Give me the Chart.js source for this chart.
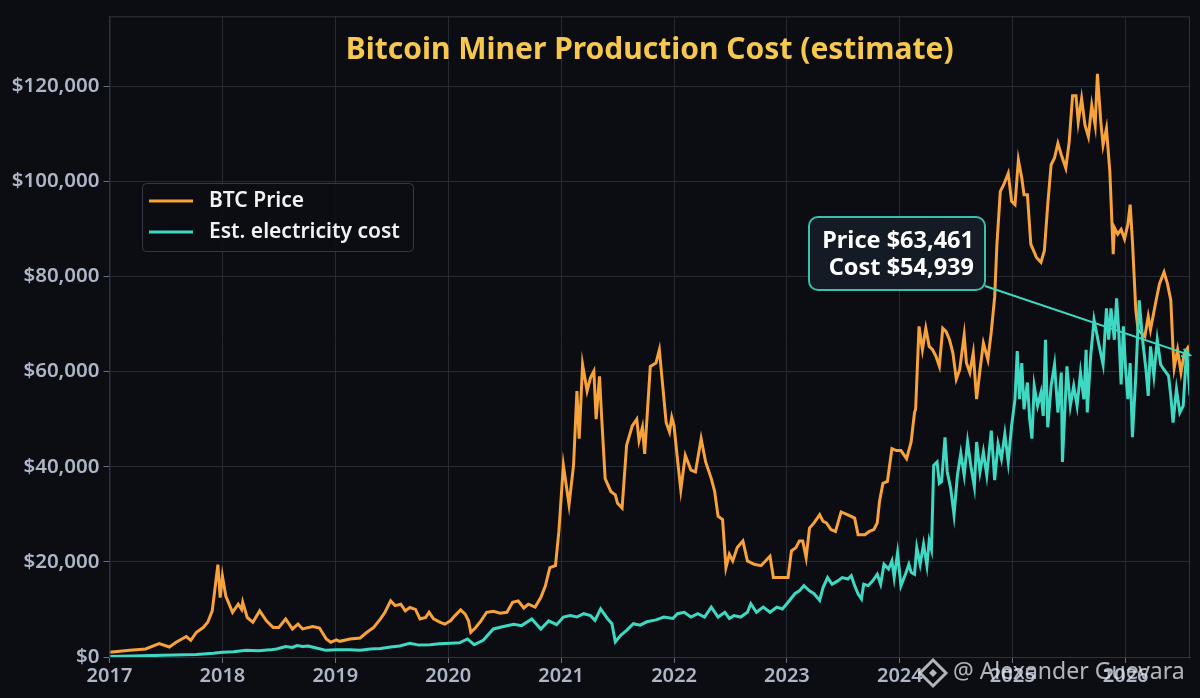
<!DOCTYPE html>
<html>
<head>
<meta charset="utf-8">
<script src="https://cdn.jsdelivr.net/npm/chart.js@4.4.1/dist/chart.umd.min.js"></script>
<style>
  html, body { margin: 0; padding: 0; background: #0b0d13; }
  #wrap { width: 1200px; height: 698px; position: relative; }
</style>
</head>
<body>
<div id="wrap"><canvas id="myChart"></canvas></div>
<script>
"use strict";

// weekly-ish samples, x in decimal years
const priceX = [
  2017.00, 2017.18, 2017.32, 2017.44, 2017.53, 2017.59, 2017.68, 2017.72, 2017.77, 2017.83, 2017.87, 2017.91, 2017.96, 2017.98,
  2018.00, 2018.03, 2018.09, 2018.14, 2018.17, 2018.18, 2018.22, 2018.27, 2018.33, 2018.39, 2018.45, 2018.50, 2018.56, 2018.62,
  2018.67, 2018.71, 2018.80, 2018.86, 2018.92, 2018.96, 2019.01, 2019.04, 2019.13, 2019.22, 2019.28, 2019.34, 2019.40, 2019.44,
  2019.49, 2019.53, 2019.58, 2019.62, 2019.66, 2019.71, 2019.75, 2019.80, 2019.83, 2019.87, 2019.93, 2019.97, 2020.02, 2020.06,
  2020.11, 2020.15, 2020.18, 2020.20, 2020.24, 2020.29, 2020.34, 2020.40, 2020.46, 2020.52, 2020.57, 2020.62, 2020.67, 2020.71,
  2020.77, 2020.82, 2020.86, 2020.90, 2020.95, 2020.98, 2021.02, 2021.07, 2021.11, 2021.14, 2021.16, 2021.19, 2021.23, 2021.26,
  2021.29, 2021.31, 2021.34, 2021.36, 2021.39, 2021.44, 2021.48, 2021.50, 2021.54, 2021.58, 2021.63, 2021.67, 2021.69, 2021.72,
  2021.74, 2021.76, 2021.79, 2021.84, 2021.87, 2021.90, 2021.93, 2021.96, 2021.98, 2022.00, 2022.03, 2022.06, 2022.10, 2022.15,
  2022.19, 2022.24, 2022.28, 2022.33, 2022.36, 2022.39, 2022.43, 2022.46, 2022.49, 2022.52, 2022.56, 2022.61, 2022.65, 2022.71,
  2022.77, 2022.85, 2022.88, 2022.95, 2023.01, 2023.04, 2023.08, 2023.11, 2023.14, 2023.17, 2023.20, 2023.24, 2023.29, 2023.32,
  2023.35, 2023.39, 2023.43, 2023.48, 2023.54, 2023.60, 2023.63, 2023.69, 2023.73, 2023.77, 2023.80, 2023.82, 2023.85, 2023.89,
  2023.93, 2023.97, 2024.01, 2024.06, 2024.10, 2024.13, 2024.14, 2024.17, 2024.20, 2024.23, 2024.26, 2024.29, 2024.32, 2024.35,
  2024.38, 2024.41, 2024.44, 2024.47, 2024.50, 2024.53, 2024.57, 2024.59, 2024.62, 2024.65, 2024.68, 2024.71, 2024.74, 2024.78,
  2024.81, 2024.84, 2024.86, 2024.89, 2024.92, 2024.96, 2024.99, 2025.02, 2025.05, 2025.08, 2025.10, 2025.13, 2025.16, 2025.21,
  2025.25, 2025.28, 2025.31, 2025.34, 2025.37, 2025.40, 2025.43, 2025.47, 2025.50, 2025.53, 2025.56, 2025.58, 2025.61, 2025.64,
  2025.67, 2025.70, 2025.73, 2025.75, 2025.78, 2025.80, 2025.83, 2025.86, 2025.89, 2025.90, 2025.93, 2025.96, 2025.99, 2026.02,
  2026.04, 2026.06, 2026.09, 2026.11, 2026.14, 2026.17, 2026.20, 2026.22, 2026.27, 2026.30, 2026.34, 2026.37, 2026.40, 2026.42,
  2026.43, 2026.46, 2026.49, 2026.52, 2026.55, 2026.57
];
const priceValues = [
  1000, 1400, 1700, 2800, 2100, 3100, 4300, 3500, 5200, 6200, 7300, 9700, 19400, 12500,
  17000, 12800, 9400, 11100, 10000, 11500, 8300, 7300, 9700, 7600, 6200, 6200, 8000, 5900,
  6900, 5900, 6400, 6100, 3800, 3100, 3600, 3300, 3800, 4000, 5200, 6200, 8000, 9400,
  11800, 10800, 11100, 9700, 10400, 10000, 8000, 8300, 9400, 8000, 7300, 6900, 7600, 8700,
  9900, 9000, 7600, 5200, 6100, 7600, 9400, 9600, 9200, 9400, 11500, 11800, 10300, 11100,
  10500, 12500, 14900, 18800, 19200, 26400, 40300, 32000, 40300, 55900, 45900, 61500, 55900, 58700,
  60100, 50000, 59000, 50000, 37500, 34800, 34100, 32300, 31300, 44500, 48600, 50000, 45500, 48300,
  42700, 50000, 61100, 61800, 64600, 57000, 49300, 47300, 50400, 48600, 41700, 35100, 42400, 39300,
  38900, 45900, 41000, 37500, 34800, 29600, 28900, 18800, 21600, 20200, 23000, 24400, 20200, 19500,
  19200, 21200, 16700, 16700, 16700, 22300, 23000, 24400, 24400, 20900, 27100, 28200, 29900, 28500,
  28200, 26800, 26400, 30500, 29900, 29200, 25700, 25700, 26400, 26800, 28200, 32700, 36500, 36900,
  43800, 43400, 43400, 41700, 45200, 51400, 52100, 69500, 64600, 69100, 65300, 64600, 63200, 61100,
  69100, 68400, 66700, 63900, 58400, 60400, 67700, 61800, 59800, 63900, 54200, 60400, 66000, 62500,
  68400, 75700, 86800, 97900, 99300, 101700, 95800, 95100, 104500, 100700, 97200, 97200, 86800, 84000,
  83000, 85400, 95100, 103500, 104900, 108000, 105600, 102800, 108300, 118000, 118000, 112500, 117400, 111800,
  109400, 116000, 111800, 122600, 112500, 107600, 111100, 102100, 84700, 90300, 88900, 89900, 87900, 91000,
  95100, 87500, 72900, 68800, 68100, 67400, 71600, 68800, 75000, 78500, 80900, 78500, 75000, 64600,
  60800, 64600, 59800, 63900, 65000, 63461
];

const costX = [
  2017.00, 2017.20, 2017.47, 2017.77, 2017.92, 2018.00, 2018.10, 2018.21, 2018.32, 2018.42, 2018.48, 2018.56, 2018.62, 2018.66,
  2018.71, 2018.76, 2018.83, 2018.92, 2019.01, 2019.13, 2019.22, 2019.31, 2019.40, 2019.49, 2019.57, 2019.66, 2019.74, 2019.84,
  2019.92, 2020.02, 2020.10, 2020.17, 2020.23, 2020.31, 2020.40, 2020.49, 2020.58, 2020.65, 2020.74, 2020.82, 2020.89, 2020.96,
  2021.02, 2021.08, 2021.14, 2021.20, 2021.26, 2021.30, 2021.35, 2021.41, 2021.45, 2021.48, 2021.53, 2021.58, 2021.64, 2021.70,
  2021.76, 2021.84, 2021.91, 2021.99, 2022.03, 2022.09, 2022.15, 2022.21, 2022.27, 2022.33, 2022.39, 2022.45, 2022.49, 2022.53,
  2022.59, 2022.65, 2022.68, 2022.73, 2022.79, 2022.85, 2022.91, 2022.96, 2023.01, 2023.07, 2023.11, 2023.15, 2023.20, 2023.24,
  2023.29, 2023.32, 2023.36, 2023.40, 2023.45, 2023.49, 2023.54, 2023.57, 2023.60, 2023.63, 2023.66, 2023.68, 2023.72, 2023.76,
  2023.80, 2023.83, 2023.86, 2023.90, 2023.93, 2023.95, 2023.98, 2024.01, 2024.05, 2024.08, 2024.10, 2024.13, 2024.15, 2024.18,
  2024.21, 2024.24, 2024.26, 2024.28, 2024.30, 2024.33, 2024.35, 2024.37, 2024.40, 2024.42, 2024.45, 2024.48, 2024.51, 2024.54,
  2024.57, 2024.60, 2024.63, 2024.66, 2024.68, 2024.71, 2024.74, 2024.77, 2024.81, 2024.84, 2024.87, 2024.90, 2024.93, 2024.96,
  2024.99, 2025.02, 2025.04, 2025.06, 2025.08, 2025.10, 2025.13, 2025.15, 2025.17, 2025.19, 2025.22, 2025.25, 2025.27, 2025.29,
  2025.31, 2025.34, 2025.37, 2025.40, 2025.43, 2025.44, 2025.48, 2025.51, 2025.54, 2025.57, 2025.60, 2025.63, 2025.65, 2025.66,
  2025.69, 2025.72, 2025.76, 2025.80, 2025.83, 2025.85, 2025.87, 2025.90, 2025.92, 2025.94, 2025.96, 2025.98, 2026.00, 2026.02,
  2026.04, 2026.06, 2026.09, 2026.12, 2026.15, 2026.18, 2026.20, 2026.22, 2026.25, 2026.28, 2026.31, 2026.34, 2026.38, 2026.40,
  2026.42, 2026.45, 2026.48, 2026.51, 2026.54, 2026.57
];
const costValues = [
  100, 200, 350, 550, 800, 1000, 1100, 1400, 1300, 1500, 1700, 2200, 2000, 2400,
  2200, 2300, 1900, 1400, 1500, 1500, 1400, 1700, 1800, 2100, 2300, 2900, 2500, 2600,
  2800, 2900, 3000, 3800, 2600, 3500, 5900, 6400, 6900, 6600, 8000, 5900, 7600, 6800,
  8400, 8700, 8400, 9100, 8700, 7700, 10100, 8100, 7000, 3200, 4600, 5600, 7000, 6700,
  7400, 7800, 8400, 8100, 9100, 9400, 8400, 9100, 8400, 10500, 8400, 9400, 8100, 8700,
  8400, 9400, 11200, 9400, 10500, 9400, 10500, 10100, 11500, 13300, 13900, 15000, 13900, 13300,
  11900, 14600, 16700, 15300, 16000, 16700, 16400, 17100, 15000, 13300, 12200, 15300, 15000, 16000,
  17400, 15300, 19500, 18500, 20200, 16700, 21900, 15000, 17400, 19500, 17800, 17400, 23000, 19500,
  23700, 19200, 24400, 22600, 40300, 41000, 36500, 36900, 46200, 38900, 35500, 29900, 38200, 42800,
  38200, 45200, 40000, 35800, 45200, 38900, 43100, 38200, 47600, 37200, 44800, 41700, 46900, 41000,
  48600, 54200, 64300, 54200, 61800, 52100, 57700, 50000, 45900, 57000, 52800, 55600, 50700, 66700,
  48300, 57000, 61500, 51400, 59800, 41000, 61100, 52800, 57000, 52800, 59800, 54200, 64600, 51400,
  63200, 70900, 66000, 61500, 73300, 66700, 73300, 66700, 75400, 68100, 57300, 69500, 60400, 54200,
  61800, 46200, 59100, 75000, 66700, 60400, 54900, 65300, 59100, 66700, 61500, 60400, 59100, 54900,
  49300, 56300, 51400, 52800, 64600, 54939
];

const yTicks = [0, 20000, 40000, 60000, 80000, 100000, 120000];
const yearLabels = [2017, 2018, 2019, 2020, 2021, 2022, 2023, 2024, 2025, 2026];
const seriesNames = ["BTC Price", "Est. electricity cost"];

const ORANGE = "#f7a23b";
const TEAL = "#3ed8c3";
const BG = "#0b0d13";
const GRID = "#252a35";
const FONT = "'Noto Sans', 'Open Sans', sans-serif";

const fmtUsd = (v) => "$" + Math.round(v).toString().replace(/\B(?=(\d{3})+(?!\d))/g, ",");

const toPoints = (xs, ys) => xs.map((x, i) => ({ x: x, y: ys[i] }));

const bgPlugin = {
    id: "bg",
    beforeDraw: (chart) => {
        const c = chart.ctx;
        c.save();
        c.fillStyle = BG;
        c.fillRect(0, 0, chart.width, chart.height);
        c.restore();
    }
};

const decorPlugin = {
    id: "decor",
    afterDatasetsDraw: (chart) => {
        const c = chart.ctx;
        const a = chart.chartArea;
        const xs = chart.scales.x, ys = chart.scales.y;
        c.save();

        // frame
        c.strokeStyle = "#2e333e";
        c.lineWidth = 1;
        c.strokeRect(a.left + 0.5, a.top + 0.5, a.right - a.left - 1, a.bottom - a.top);

        // title
        c.fillStyle = "#f6c84f";
        c.font = "bold 30px " + FONT;
        c.textAlign = "center";
        c.textBaseline = "middle";
        c.fillText("Bitcoin Miner Production Cost (estimate)", (a.left + a.right) / 2, 50);

        // legend
        const lx = 142, ly = 183, lw = 271, lh = 68;
        c.beginPath();
        c.roundRect(lx + 0.5, ly + 0.5, lw, lh, 4);
        c.fillStyle = "rgba(11,13,19,0.9)";
        c.fill();
        c.strokeStyle = "#343945";
        c.lineWidth = 1;
        c.stroke();
        const colors = [ORANGE, TEAL];
        seriesNames.forEach((name, i) => {
            const yy = ly + 18 + i * 31;
            c.strokeStyle = colors[i];
            c.lineWidth = 3;
            c.beginPath();
            c.moveTo(149, yy);
            c.lineTo(193, yy);
            c.stroke();
            c.fillStyle = "#f2f2f2";
            c.font = "600 21px " + FONT;
            c.textAlign = "left";
            c.textBaseline = "middle";
            c.fillText(name, 209, yy);
        });

        // callout
        const n = priceX.length - 1;
        const px = xs.getPixelForValue(priceX[n]);
        const py = ys.getPixelForValue(priceValues[n]);
        const bx = 809, by = 217, bw = 176, bh = 73;
        c.strokeStyle = TEAL;
        c.lineWidth = 2;
        c.beginPath();
        c.moveTo(bx + bw, by + bh - 4);
        c.lineTo(px, py);
        c.stroke();
        const ang = Math.atan2(py - (by + bh - 4), px - (bx + bw));
        c.beginPath();
        c.moveTo(px - 9 * Math.cos(ang - 0.45), py - 9 * Math.sin(ang - 0.45));
        c.lineTo(px, py);
        c.lineTo(px - 9 * Math.cos(ang + 0.45), py - 9 * Math.sin(ang + 0.45));
        c.stroke();

        c.beginPath();
        c.roundRect(bx, by, bw, bh, 9);
        c.fillStyle = "#141b25";
        c.fill();
        c.strokeStyle = "#3bbfa9";
        c.lineWidth = 2;
        c.stroke();
        c.fillStyle = "#ffffff";
        c.font = "bold 23.5px " + FONT;
        c.textAlign = "right";
        c.textBaseline = "middle";
        c.fillText("Price " + fmtUsd(priceValues[n]), bx + bw - 11, by + 24);
        c.fillText("Cost " + fmtUsd(costValues[costValues.length - 1]), bx + bw - 11, by + 51);
        c.restore();
    },
    afterDraw: (chart) => {
        // watermark
        const c = chart.ctx;
        c.save();
        c.fillStyle = "rgba(225,228,235,0.78)";
        c.strokeStyle = "rgba(225,228,235,0.78)";
        const cx = 933, cy = 673, r = 13;
        c.lineWidth = 3;
        c.beginPath();
        c.moveTo(cx, cy - r); c.lineTo(cx + r, cy); c.lineTo(cx, cy + r); c.lineTo(cx - r, cy); c.closePath();
        c.stroke();
        c.beginPath();
        c.moveTo(cx, cy - 4); c.lineTo(cx + 4, cy); c.lineTo(cx, cy + 4); c.lineTo(cx - 4, cy); c.closePath();
        c.fill();
        c.font = "23px " + FONT;
        c.textAlign = "left";
        c.textBaseline = "middle";
        c.fillText("@ Alexander Guevara", 953, 672);
        c.restore();
    }
};

const ctx = document.getElementById("myChart");

new Chart(ctx, {
    type: "line",
    data: {
        datasets: [{
            label: seriesNames[0],
            data: toPoints(priceX, priceValues),
            borderColor: ORANGE,
            borderWidth: 3,
            pointRadius: 0,
            tension: 0,
            order: 1
        }, {
            label: seriesNames[1],
            data: toPoints(costX, costValues),
            borderColor: TEAL,
            borderWidth: 3,
            pointRadius: 0,
            tension: 0,
            order: 0
        }]
    },
    options: {
        responsive: true,
        maintainAspectRatio: false,
        animation: false,
        layout: { padding: { top: 9, right: 10, left: 0, bottom: 0 } },
        plugins: {
            legend: { display: false },
            title: { display: false },
            tooltip: { enabled: false }
        },
        scales: {
            x: {
                type: "linear",
                min: 2017,
                max: 2026.57,
                afterFit: (s) => { s.height = 41; },
                afterBuildTicks: (s) => {
                    s.ticks = yearLabels.map(v => ({ value: v }));
                },
                ticks: {
                    autoSkip: false,
                    maxRotation: 0,
                    padding: 1,
                    color: "#aeb5c6",
                    font: { family: FONT, size: 20, weight: "600" },
                    callback: (v) => String(v)
                },
                grid: { color: GRID, tickColor: "#6b7080", tickLength: 6, lineWidth: 1 },
                border: { display: true, color: "#2e333e" }
            },
            y: {
                min: 0,
                max: 134700,
                afterFit: (s) => { s.width = 109.5; },
                afterBuildTicks: (s) => {
                    s.ticks = yTicks.map(v => ({ value: v }));
                },
                ticks: {
                    padding: 4,
                    color: "#aeb5c6",
                    font: { family: FONT, size: 20.5, weight: "600" },
                    callback: (v) => fmtUsd(v)
                },
                grid: { color: GRID, tickColor: "#6b7080", tickLength: 6, lineWidth: 1 },
                border: { display: true, color: "#2e333e" }
            }
        }
    },
    plugins: [bgPlugin, decorPlugin]
});
</script>
</body>
</html>
